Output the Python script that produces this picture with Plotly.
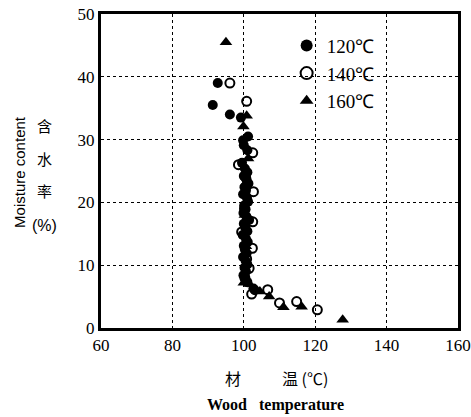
import plotly.graph_objects as go

# 120°C (filled circles)
x120 = [92.7, 91.3, 96.1, 99.2, 101.2, 99.8, 100.0, 101.0, 99.5,
        100.3, 101.0, 100.0, 100.8, 101.3, 100.2, 100.6, 99.8, 100.9, 101.2,
        100.1, 100.5, 99.9, 100.7, 101.5, 100.0, 100.4, 101.0, 99.7, 100.6,
        101.1, 100.0, 100.3, 100.8, 99.8, 100.5, 101.0, 100.2, 100.6, 99.9,
        100.4, 101.0, 102.7, 103.1]
y120 = [39.0, 35.5, 34.0, 33.5, 30.5, 29.9, 29.1, 28.3, 26.3,
        25.4, 24.8, 24.2, 23.6, 23.0, 22.4, 21.9, 21.3, 20.7, 20.1,
        19.5, 18.9, 18.3, 17.8, 17.2, 16.6, 16.0, 15.4, 14.8, 14.2,
        13.7, 13.1, 12.5, 11.9, 11.3, 10.7, 10.1, 9.6, 9.0, 8.4,
        7.8, 7.3, 6.3, 6.0]

# 140°C (open circles)
x140 = [96.1, 100.8, 102.5, 98.5, 102.7, 102.5, 99.4, 102.4, 101.5,
        100.5, 100.2, 100.8, 100.3, 102.2, 106.7, 110.0, 114.8, 120.6]
y140 = [39.0, 36.1, 27.9, 26.0, 21.7, 16.9, 15.3, 12.7, 9.5,
        24.0, 19.0, 11.0, 8.0, 5.4, 6.1, 4.0, 4.2, 2.9]

# 160°C (triangles)
x160 = [95.0, 100.8, 99.9, 101.2, 100.5, 100.3, 100.6, 100.0, 101.5,
        104.5, 107.1, 111.1, 116.2, 127.7]
y160 = [45.5, 33.8, 32.1, 27.0, 23.0, 18.0, 13.0, 7.2, 7.0,
        5.8, 5.0, 3.3, 3.4, 1.3]

series_names = ["120℃", "140℃", "160℃"]
x_ticks = [60, 80, 100, 120, 140, 160]
y_ticks = [0, 10, 20, 30, 40, 50]

fig = go.Figure()
fig.add_trace(go.Scatter(x=x120, y=y120, mode="markers", name=series_names[0],
                         marker=dict(symbol="circle", size=10, color="black",
                                     line=dict(color="black", width=0))))
fig.add_trace(go.Scatter(x=x140, y=y140, mode="markers", name=series_names[1],
                         marker=dict(symbol="circle-open", size=9, color="black",
                                     line=dict(color="black", width=2))))
fig.add_trace(go.Scatter(x=x160, y=y160, mode="markers", name=series_names[2],
                         marker=dict(symbol="triangle-up", size=11, color="black",
                                     line=dict(color="black", width=0))))

serif = "Liberation Serif"
axis_common = dict(showline=True, linecolor="black", linewidth=3, mirror=True,
                   showgrid=True, gridcolor="black", gridwidth=1.3, griddash="dot",
                   zeroline=False, ticks="", automargin=False,
                   tickfont=dict(family=serif, size=17, color="black"))

fig.update_xaxes(range=[60, 160], tickvals=x_ticks, ticktext=[str(v) for v in x_ticks], **axis_common)
fig.update_yaxes(range=[0, 50], tickvals=y_ticks, ticktext=[str(v) for v in y_ticks], **axis_common)

fig.update_layout(
    width=471, height=417,
    margin=dict(l=101, r=13, t=14, b=89),
    plot_bgcolor="white", paper_bgcolor="white",
    showlegend=True,
    legend=dict(x=0.52, y=0.96, xanchor="left", yanchor="top",
                bgcolor="rgba(255,255,255,0)", borderwidth=0,
                font=dict(family=serif, size=19, color="black"),
                itemsizing="constant", tracegroupgap=0),
)

ann = [
    dict(text="Moisture content", x=-0.227, y=0.497, textangle=-90,
         font=dict(family="Liberation Sans", size=15, color="black")),
    dict(text="含", x=-0.157, y=0.646, font=dict(family="Noto Sans CJK SC", size=15, color="black")),
    dict(text="水", x=-0.157, y=0.541, font=dict(family="Noto Sans CJK SC", size=15, color="black")),
    dict(text="率", x=-0.157, y=0.439, font=dict(family="Noto Sans CJK SC", size=15, color="black")),
    dict(text="(%)", x=-0.157, y=0.328, font=dict(family="Liberation Sans", size=16, color="black")),
    dict(text="材", x=0.370, y=-0.159, font=dict(family="Noto Sans CJK SC", size=16, color="black")),
    dict(text="温 (℃)", x=0.571, y=-0.159, font=dict(family="Noto Sans CJK SC", size=16, color="black")),
    dict(text="<b>Wood   temperature</b>", x=0.490, y=-0.245,
         font=dict(family=serif, size=16, color="black")),
]
for a in ann:
    a.update(xref="paper", yref="paper", showarrow=False, xanchor="center", yanchor="middle")
    fig.add_annotation(**a)

fig.write_html("out.html", config={"displayModeBar": False},
               post_script="document.body.style.margin='0';document.body.style.overflow='hidden';")
